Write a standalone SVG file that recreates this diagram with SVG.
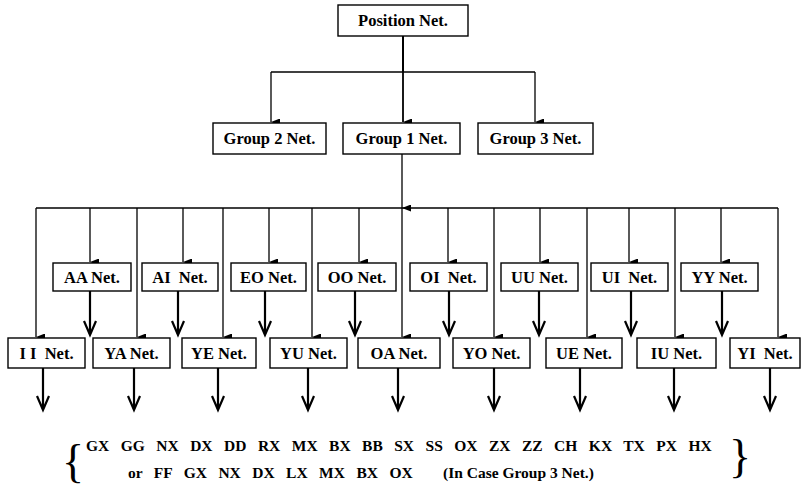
<svg xmlns="http://www.w3.org/2000/svg" width="804" height="486" viewBox="0 0 804 486">
  <style>
    .box { fill: #fff; stroke: #000; stroke-width: 1.4; }
    .lbl { font-family: "Liberation Serif", "Times New Roman", serif; font-weight: bold; font-size: 16.5px; text-anchor: middle; fill: #000; }
    .thin { stroke: #000; stroke-width: 1.3; fill: none; }
    .thick { stroke: #000; stroke-width: 2.2; fill: none; }
    .seq { font-family: "Liberation Serif", "Times New Roman", serif; font-weight: bold; font-size: 15.5px; fill: #000; word-spacing: 7.6px; }
    .brace { font-family: "Liberation Serif", "Times New Roman", serif; font-size: 46px; fill: #000; }
  </style>
  <defs>
    <marker id="tip" viewBox="0 0 7 10" refX="3.5" refY="10" markerWidth="7" markerHeight="10" markerUnits="userSpaceOnUse" orient="auto-start-reverse">
      <path d="M0,1 L3.5,10 L7,1 Z" fill="#000"/>
    </marker>
  </defs>
  <rect width="804" height="486" fill="#fff"/>

  <g id="connectors">
    <!-- root fan-out -->
    <path class="thin" d="M403,36 V72" style="stroke-width:2"/>
    <path class="thin" d="M271,72 H535"/>
    <path class="thin" d="M271,72 V122" marker-end="url(#tip)"/>
    <path class="thin" d="M403,72 V122" marker-end="url(#tip)" style="stroke-width:1.8"/>
    <path class="thin" d="M535,72 V122" marker-end="url(#tip)"/>
    <!-- Group 1 to vowel bus -->
    <path class="thin" d="M402,154 V208" marker-end="url(#tip)"/>
    <path class="thin" d="M36,208 H778"/>
    <!-- bus to upper row -->
    <path class="thin" d="M90,208 V262" marker-end="url(#tip)"/>
    <path class="thin" d="M183,208 V262" marker-end="url(#tip)"/>
    <path class="thin" d="M269,208 V262" marker-end="url(#tip)"/>
    <path class="thin" d="M359,208 V262" marker-end="url(#tip)"/>
    <path class="thin" d="M448,208 V262" marker-end="url(#tip)"/>
    <path class="thin" d="M540,208 V262" marker-end="url(#tip)"/>
    <path class="thin" d="M629,208 V262" marker-end="url(#tip)"/>
    <path class="thin" d="M721,208 V262" marker-end="url(#tip)"/>
    <!-- bus to lower row -->
    <path class="thin" d="M36,208 V337" marker-end="url(#tip)"/>
    <path class="thin" d="M137,208 V337" marker-end="url(#tip)"/>
    <path class="thin" d="M223,208 V337" marker-end="url(#tip)"/>
    <path class="thin" d="M312,208 V337" marker-end="url(#tip)"/>
    <path class="thin" d="M402,208 V337" marker-end="url(#tip)"/>
    <path class="thin" d="M494,208 V337" marker-end="url(#tip)"/>
    <path class="thin" d="M587,208 V337" marker-end="url(#tip)"/>
    <path class="thin" d="M675,208 V337" marker-end="url(#tip)"/>
    <path class="thin" d="M778,208 V337" marker-end="url(#tip)"/>
    <!-- upper row outputs -->
    <g class="thick">
      <path d="M90,291 V335 M84,321 L90,335 L96,321"/>
      <path d="M178,291 V335 M172,321 L178,335 L184,321"/>
      <path d="M265,291 V335 M259,321 L265,335 L271,321"/>
      <path d="M355,291 V335 M349,321 L355,335 L361,321"/>
      <path d="M449,291 V335 M443,321 L449,335 L455,321"/>
      <path d="M539,291 V335 M533,321 L539,335 L545,321"/>
      <path d="M631,291 V335 M625,321 L631,335 L637,321"/>
      <path d="M722,291 V335 M716,321 L722,335 L728,321"/>
    </g>
    <!-- lower row outputs -->
    <g class="thick">
      <path d="M43,368 V410 M37,396 L43,410 L49,396"/>
      <path d="M134,368 V410 M128,396 L134,410 L140,396"/>
      <path d="M218,368 V410 M212,396 L218,410 L224,396"/>
      <path d="M308,368 V410 M302,396 L308,410 L314,396"/>
      <path d="M398,368 V410 M392,396 L398,410 L404,396"/>
      <path d="M494,368 V410 M488,396 L494,410 L500,396"/>
      <path d="M580,368 V410 M574,396 L580,410 L586,396"/>
      <path d="M674,368 V410 M668,396 L674,410 L680,396"/>
      <path d="M770,368 V410 M764,396 L770,410 L776,396"/>
    </g>
  </g>

  <g id="position-net"><rect class="box" x="338" y="5" width="130" height="31"/><text class="lbl" x="403" y="26">Position Net.</text></g>

  <g id="group2-net"><rect class="box" x="213" y="123" width="113" height="31"/><text class="lbl" x="269.5" y="144">Group 2 Net.</text></g>
  <g id="group1-net"><rect class="box" x="343" y="123" width="117" height="31"/><text class="lbl" x="401.5" y="144">Group 1 Net.</text></g>
  <g id="group3-net"><rect class="box" x="478" y="123" width="115" height="31"/><text class="lbl" x="535.5" y="144">Group 3 Net.</text></g>

  <g id="aa-net"><rect class="box" x="53" y="263" width="78" height="28"/><text class="lbl" x="92" y="282.5">AA Net.</text></g>
  <g id="ai-net"><rect class="box" x="142" y="263" width="76" height="28"/><text class="lbl" x="180" y="282.5">AI&#160; Net.</text></g>
  <g id="eo-net"><rect class="box" x="231" y="263" width="75" height="28"/><text class="lbl" x="268.5" y="282.5">EO Net.</text></g>
  <g id="oo-net"><rect class="box" x="318" y="263" width="78" height="28"/><text class="lbl" x="357" y="282.5">OO Net.</text></g>
  <g id="oi-net"><rect class="box" x="410" y="263" width="77" height="28"/><text class="lbl" x="448.5" y="282.5">OI&#160; Net.</text></g>
  <g id="uu-net"><rect class="box" x="501" y="263" width="77" height="28"/><text class="lbl" x="539.5" y="282.5">UU Net.</text></g>
  <g id="ui-net"><rect class="box" x="591" y="263" width="77" height="28"/><text class="lbl" x="629.5" y="282.5">UI&#160; Net.</text></g>
  <g id="yy-net"><rect class="box" x="681" y="263" width="77" height="28"/><text class="lbl" x="719.5" y="282.5">YY Net.</text></g>

  <g id="ii-net"><rect class="box" x="8" y="338" width="77" height="30"/><text class="lbl" x="46.5" y="358.5">I I&#160; Net.</text></g>
  <g id="ya-net"><rect class="box" x="93" y="338" width="77" height="30"/><text class="lbl" x="131.5" y="358.5">YA Net.</text></g>
  <g id="ye-net"><rect class="box" x="182" y="338" width="74" height="30"/><text class="lbl" x="219" y="358.5">YE Net.</text></g>
  <g id="yu-net"><rect class="box" x="270" y="338" width="77" height="30"/><text class="lbl" x="308.5" y="358.5">YU Net.</text></g>
  <g id="oa-net"><rect class="box" x="358" y="338" width="82" height="30"/><text class="lbl" x="399" y="358.5">OA Net.</text></g>
  <g id="yo-net"><rect class="box" x="453" y="338" width="77" height="30"/><text class="lbl" x="491.5" y="358.5">YO Net.</text></g>
  <g id="ue-net"><rect class="box" x="546" y="338" width="76" height="30"/><text class="lbl" x="584" y="358.5">UE Net.</text></g>
  <g id="iu-net"><rect class="box" x="637" y="338" width="79" height="30"/><text class="lbl" x="676.5" y="358.5">IU Net.</text></g>
  <g id="yi-net"><rect class="box" x="730" y="338" width="70" height="30"/><text class="lbl" x="765" y="358.5">YI&#160; Net.</text></g>

  <!-- output consonant set -->
  <text class="brace" x="62" y="477">{</text>
  <text class="seq" x="86" y="451">GX GG NX DX DD RX MX BX BB SX SS OX ZX ZZ CH KX TX PX HX</text>
  <text class="seq" x="128" y="478">or FF GX NX DX LX MX BX OX<tspan x="443" style="word-spacing:0">(In Case Group 3 Net.)</tspan></text>
  <text class="brace" x="729" y="472">}</text>
</svg>
